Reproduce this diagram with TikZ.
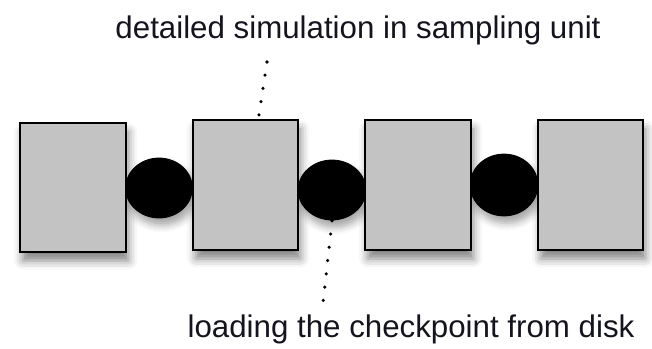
\documentclass[tikz,border=0pt]{standalone}
\usepackage{fontspec}
\setmainfont{Liberation Sans}
\usepackage{xcolor}
\usetikzlibrary{shapes,shadows.blur,calc}

\definecolor{unitgray}{RGB}{195,195,195}
\definecolor{labelink}{RGB}{20,20,30}

\begin{document}
\begin{tikzpicture}[
    x=0.02cm, y=-0.02cm,
    unit/.style={rectangle, draw, line width=1.1pt, fill=unitgray, inner sep=0pt,
        blur shadow={shadow xshift=1.5pt, shadow yshift=-5pt, shadow blur radius=5pt, shadow opacity=50}},
    ckpt/.style={ellipse, fill=black, inner sep=0pt,
        blur shadow={shadow xshift=1.5pt, shadow yshift=-4pt, shadow blur radius=4pt, shadow opacity=35}},
    label/.style={font=\fontsize{17.8}{20}\selectfont, text=labelink, inner sep=0pt, anchor=base},
    pointer/.style={line width=2pt, line cap=round, dash pattern=on 0pt off 7.6pt}
]
\useasboundingbox (0,0) rectangle (652,348);

% Checkpoints
\node[ckpt, minimum width=38.5pt, minimum height=34.6pt] (ck1) at (159,188) {};
\node[ckpt, minimum width=39pt, minimum height=34.6pt] (ck2) at (332,190) {};
\node[ckpt, minimum width=39pt, minimum height=35.7pt] (ck3) at (504,185) {};

% Sampling units
\node[unit, minimum width=60.1pt, minimum height=73.1pt] (u1) at (73,187.5) {};
\node[unit, minimum width=59.5pt, minimum height=73.7pt] (u2) at (245.5,185) {};
\node[unit, minimum width=60.1pt, minimum height=73.7pt] (u3) at (418,185) {};
\node[unit, minimum width=59.5pt, minimum height=73.7pt] (u4) at (590.5,185) {};

% Labels
\node[label] (sim) at (358,39) {detailed simulation in sampling unit};
\node[label] (load) at (411,337) {loading the checkpoint from disk};

% Pointers
\coordinate (simend) at (267,62);
\coordinate (loadend) at (323,303);
\draw[pointer] (simend) -- ($(u2.north west)!0.62!(u2.north east)$);
\draw[pointer] (ck2.south) -- (loadend);

\end{tikzpicture}
\end{document}
